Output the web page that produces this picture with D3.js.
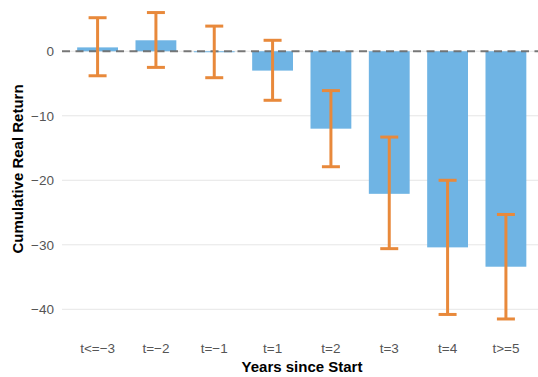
<!DOCTYPE html>
<html><head><meta charset="utf-8">
<script src="https://cdn.jsdelivr.net/npm/d3@7"></script>
<style>body{margin:0;background:#fff;font-family:"Liberation Sans",Arial,sans-serif;}</style>
</head><body><svg id="c" width="538" height="377"></svg>
<script>
const categories = ["t<=\u22123","t=\u22122","t=\u22121","t=1","t=2","t=3","t=4","t>=5"];
const values = [0.6, 1.7, -0.1, -3.0, -12.0, -22.1, -30.4, -33.4];
const ciHigh = [5.2, 6.0, 3.9, 1.7, -6.1, -13.3, -20.0, -25.3];
const ciLow = [-3.8, -2.5, -4.1, -7.6, -17.9, -30.6, -40.8, -41.5];
const yTicks = [0, -10, -20, -30, -40];

const svg = d3.select("#c");
const y = d3.scaleLinear().domain([-44, 7]).range([335.1, 6.1]);
const x = d3.scaleBand().domain(categories).range([62, 541.5]).paddingInner(0.3).paddingOuter(0.26);
const left = 62, right = 538;

// gridlines
svg.append("g").selectAll("line").data(yTicks).join("line")
  .attr("x1", left).attr("x2", right)
  .attr("y1", d => y(d)).attr("y2", d => y(d))
  .attr("stroke", "#e6e6e6").attr("stroke-width", 1);

// y axis labels
const yAxis = d3.axisLeft(y).tickValues(yTicks).tickSize(0).tickPadding(0)
  .tickFormat(d => d === 0 ? "0" : "\u2212" + Math.abs(d));
const ya = svg.append("g").attr("transform", `translate(${left - 8},0)`).call(yAxis);
ya.select(".domain").remove();
ya.selectAll("text").attr("fill", "#555").attr("font-size", 13.5).attr("font-family", "Liberation Sans, Arial, sans-serif");

// bars
svg.append("g").selectAll("rect").data(values).join("rect")
  .attr("x", (d, i) => x(categories[i]))
  .attr("width", x.bandwidth())
  .attr("y", d => y(Math.max(0, d)))
  .attr("height", d => Math.max(1, Math.abs(y(d) - y(0))))
  .attr("fill", "#6fb4e4");

// zero dashed line
svg.append("line").attr("x1", left).attr("x2", right)
  .attr("y1", y(0)).attr("y2", y(0))
  .attr("stroke", "#6b6b6b").attr("stroke-width", 2).attr("stroke-dasharray", "8,5.5")
  .attr("opacity", 0.9);

// error bars
const eg = svg.append("g").attr("stroke", "#e8893b").attr("stroke-width", 3);
categories.forEach((c, i) => {
  const cx = x(c) + x.bandwidth() / 2;
  eg.append("line").attr("x1", cx).attr("x2", cx).attr("y1", y(ciHigh[i])).attr("y2", y(ciLow[i]));
  eg.append("line").attr("x1", cx - 9).attr("x2", cx + 9).attr("y1", y(ciHigh[i])).attr("y2", y(ciHigh[i]));
  eg.append("line").attr("x1", cx - 9).attr("x2", cx + 9).attr("y1", y(ciLow[i])).attr("y2", y(ciLow[i]));
});

// x axis labels
const xAxis = d3.axisBottom(x).tickSize(0).tickPadding(0);
const xa = svg.append("g").attr("transform", `translate(0,343)`).call(xAxis);
xa.select(".domain").remove();
xa.selectAll("text").attr("fill", "#555").attr("font-size", 13.5).attr("font-family", "Liberation Sans, Arial, sans-serif");

// titles
svg.append("text").attr("x", (left + right) / 2 + 2).attr("y", 371.5)
  .attr("text-anchor", "middle").attr("font-weight", "bold").attr("font-size", 15)
  .attr("fill", "#000").text("Years since Start");
svg.append("text").attr("transform", `translate(23,169) rotate(-90)`)
  .attr("text-anchor", "middle").attr("font-weight", "bold").attr("font-size", 15)
  .attr("fill", "#000").text("Cumulative Real Return");
</script></body></html>
